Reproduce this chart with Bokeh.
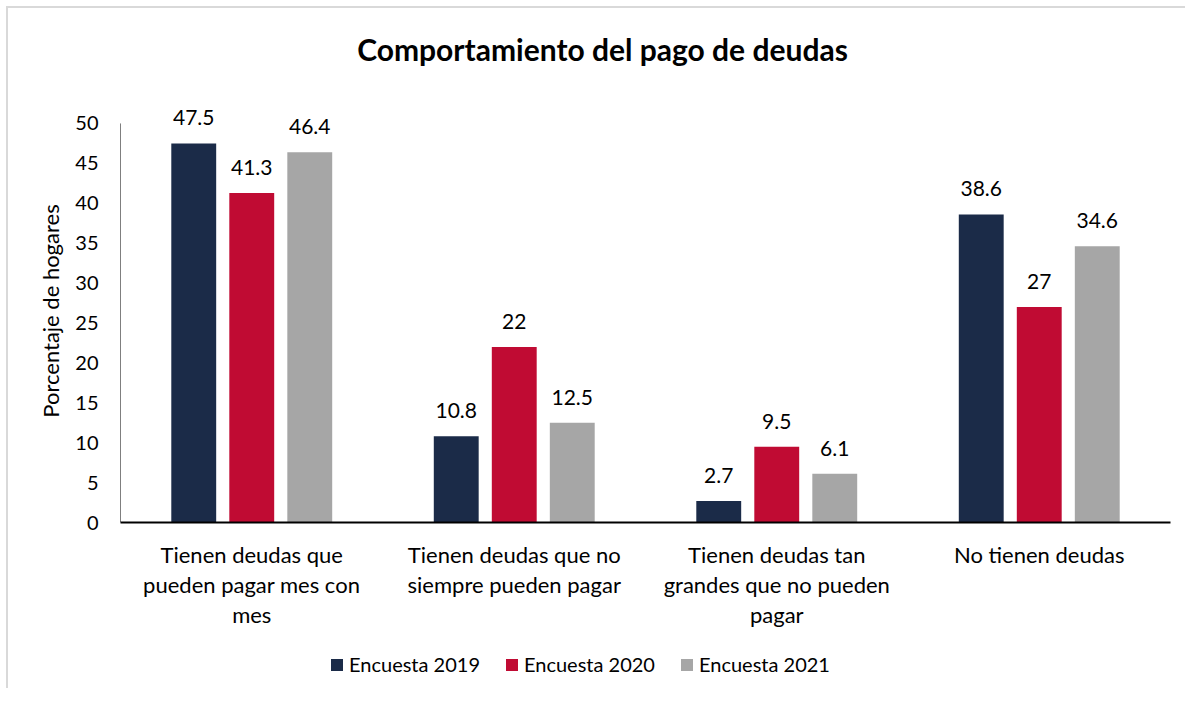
from bokeh.plotting import figure
from bokeh.layouts import column
from bokeh.models import (ColumnDataSource, FactorRange, Range1d, LabelSet, Label,
                          Legend, LegendItem)
from bokeh.transform import dodge
from bokeh.core.properties import value
from bokeh.embed import file_html
from bokeh.resources import INLINE

# ---- data ----
categories = [
    "Tienen deudas que\npueden pagar mes con\nmes",
    "Tienen deudas que no\nsiempre pueden pagar",
    "Tienen deudas tan\ngrandes que no pueden\npagar",
    "No tienen deudas",
]
series = ["Encuesta 2019", "Encuesta 2020", "Encuesta 2021"]
v2019 = [47.5, 10.8, 2.7, 38.6]
v2020 = [41.3, 22, 9.5, 27]
v2021 = [46.4, 12.5, 6.1, 34.6]
y_ticks = [0, 5, 10, 15, 20, 25, 30, 35, 40, 45, 50]
y_max = 50
title_text = "Comportamiento del pago de deudas"
y_title = "Porcentaje de hogares"

colors = ["#1b2b48", "#c00b33", "#a6a6a6"]
offsets = [-0.221, 0.0, 0.221]
FONT = "Lato"
W = 1179
BORDER = "2px solid #d9d9d9"

# ---- title strip ----
pt = figure(width=W, height=93, x_range=(0, 1), y_range=(0, 1), title=None,
            output_backend="svg", toolbar_location=None, x_axis_location=None,
            y_axis_location=None, min_border=0, outline_line_color=None)
pt.grid.visible = False
pt.styles = {"transform": "translate(6px, 6px)", "border-top": BORDER,
             "border-left": BORDER}
pt.add_layout(Label(x=482, y=53, x_units="screen", y_units="screen",
                    text=title_text, text_align="center", text_baseline="middle",
                    text_font=FONT, text_font_size="30px", text_font_style="bold",
                    text_color="#000000"))

# ---- main chart ----
p = figure(x_range=FactorRange(*categories), y_range=Range1d(0, 53), title=None,
           width=W, height=539, output_backend="svg", toolbar_location=None,
           min_border_left=112, min_border_right=17, min_border_top=0,
           min_border_bottom=116, background_fill_color="white",
           border_fill_color="white", outline_line_color=None)
p.styles = {"transform": "translate(6px, 6px)", "border-left": BORDER}
p.grid.visible = False

for name, vals, col, off in zip(series, [v2019, v2020, v2021], colors, offsets):
    src = ColumnDataSource(dict(cat=categories, val=vals,
                                txt=[f"{v:g}" for v in vals]))
    p.vbar(x=dodge("cat", off, range=p.x_range), top="val", width=0.171,
           source=src, fill_color=col, line_color=None)
    p.add_layout(LabelSet(x=dodge("cat", off, range=p.x_range), y="val", text="txt",
                          source=src, y_offset=18, text_align="center",
                          text_baseline="alphabetic", text_font=value(FONT),
                          text_font_size="21px", text_color="#000000"))

# y axis line only from 0 to the top tick
p.segment(x0=[0], y0=[0], x1=[0], y1=[y_max], line_color="#000000", line_width=1)

p.yaxis.ticker = y_ticks
p.yaxis.axis_line_color = None
p.yaxis.major_tick_line_color = None
p.yaxis.minor_tick_line_color = None
p.yaxis.major_label_standoff = 16
p.yaxis.major_label_text_font = FONT
p.yaxis.major_label_text_font_size = "20px"
p.yaxis.major_label_text_color = "#000000"
p.yaxis.axis_label = y_title
p.yaxis.axis_label_text_font = FONT
p.yaxis.axis_label_text_font_size = "22px"
p.yaxis.axis_label_text_font_style = "normal"
p.yaxis.axis_label_text_color = "#000000"
p.yaxis.axis_label_standoff = 8

p.xaxis.major_tick_line_color = None
p.xaxis.minor_tick_line_color = None
p.xaxis.axis_line_color = "#000000"
p.xaxis.axis_line_width = 2
p.xaxis.major_label_standoff = 12
p.xaxis.major_label_text_font = FONT
p.xaxis.major_label_text_font_size = "22px"
p.xaxis.major_label_text_color = "#000000"
p.xaxis.major_label_text_line_height = 1.12

# ---- legend strip ----
pl = figure(width=W, height=50, x_range=(0, 1), y_range=(0, 1), title=None,
            output_backend="svg", toolbar_location=None, x_axis_location=None,
            y_axis_location=None, min_border=0, outline_line_color=None)
pl.grid.visible = False
pl.styles = {"transform": "translate(6px, 6px)", "border-left": BORDER}
items = []
for name, col in zip(series, colors):
    # zero-height helper bar, used only for the legend swatch
    rr = pl.vbar(x=[-1], top=[0], width=0, fill_color=col, line_color=None)
    items.append(LegendItem(label=name, renderers=[rr]))
legend = Legend(items=items, orientation="horizontal", location=(209, 12),
                label_text_font=FONT, label_text_font_size="20px",
                label_text_color="#000000", glyph_width=15, glyph_height=15,
                label_width=130, spacing=24, label_standoff=5, padding=0,
                margin=0, border_line_color=None, background_fill_alpha=0)
pl.add_layout(legend)

layout = column(pt, p, pl, spacing=0)
open("out.html", "w").write(file_html(layout, INLINE))
